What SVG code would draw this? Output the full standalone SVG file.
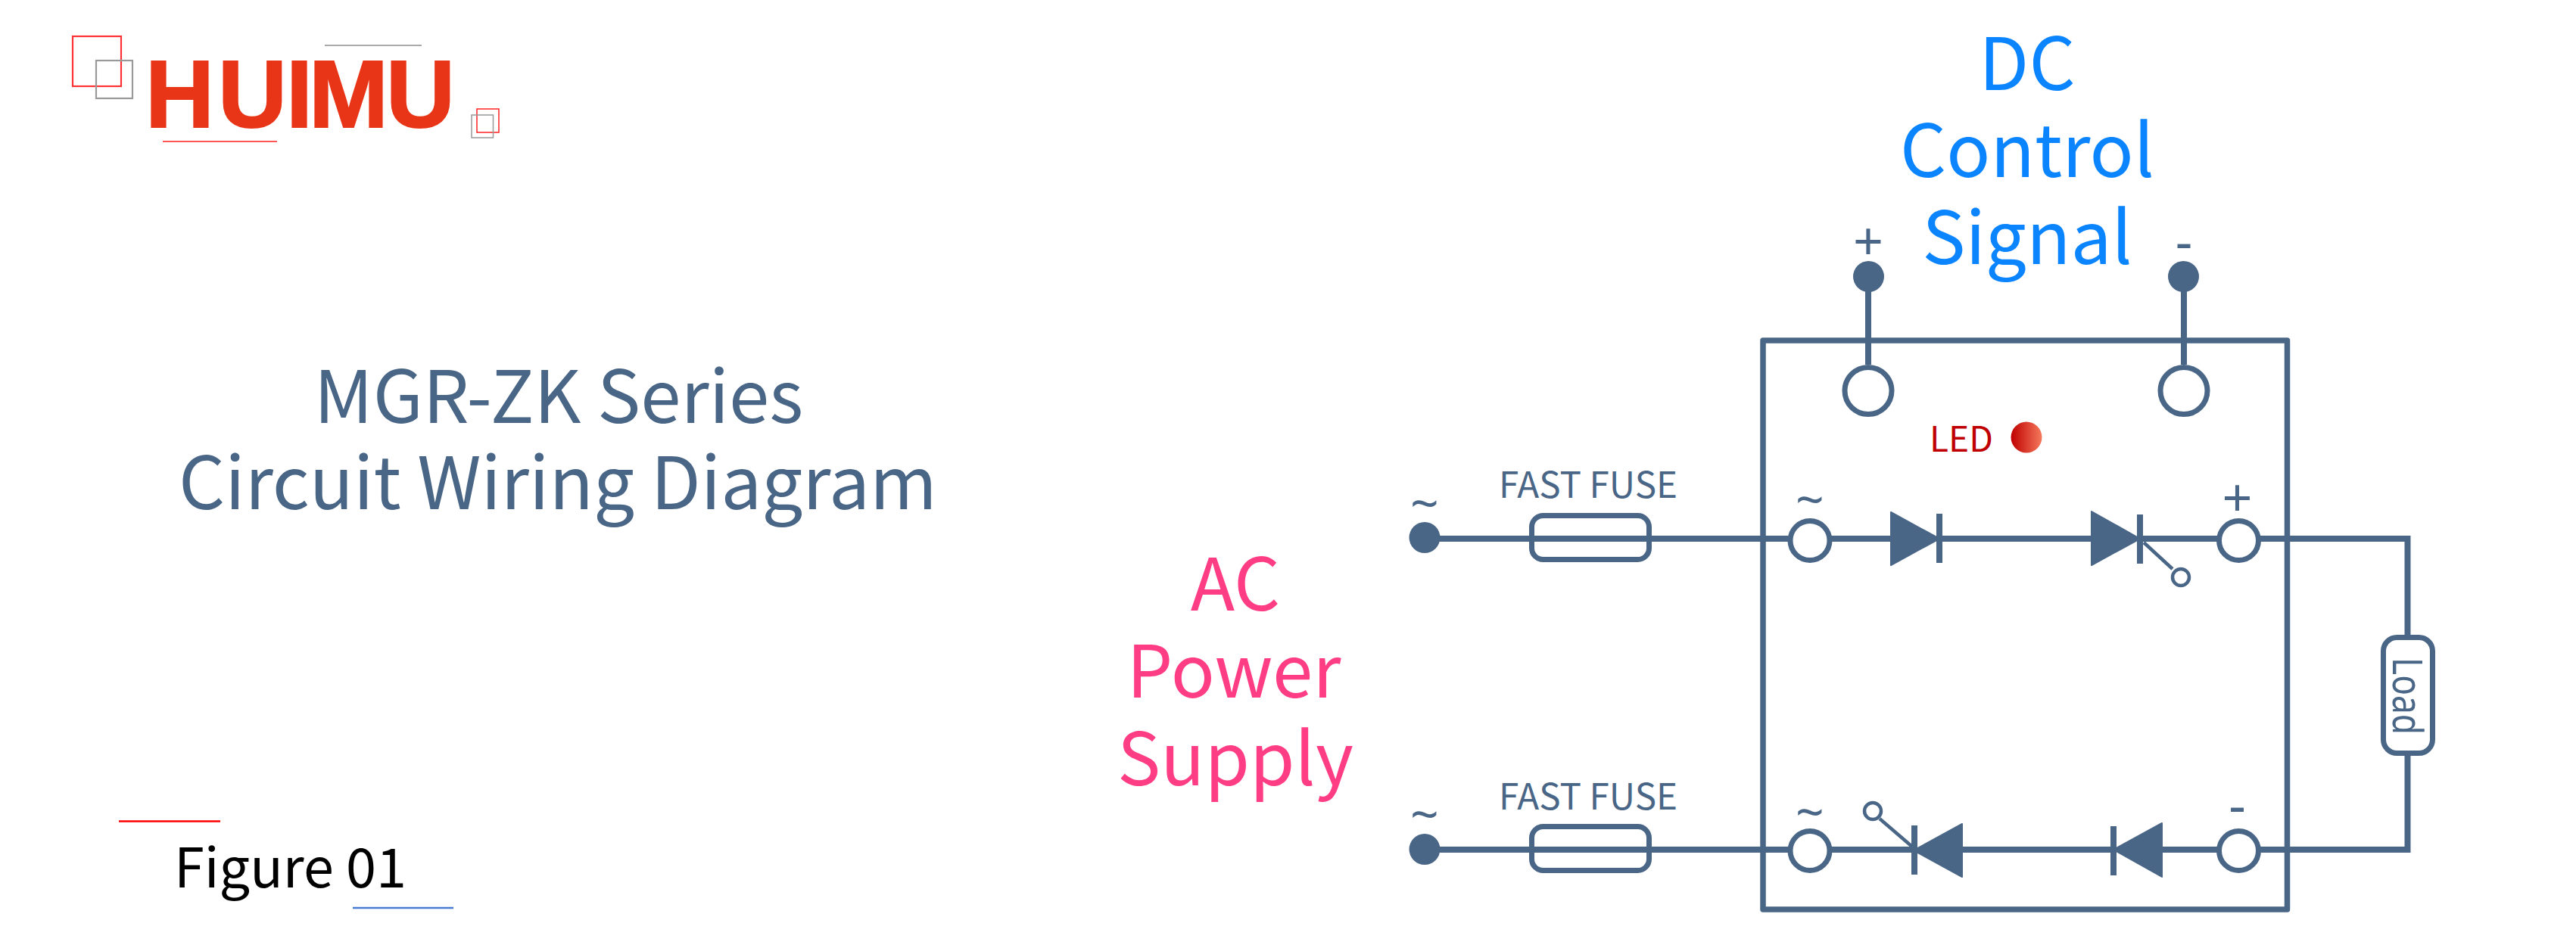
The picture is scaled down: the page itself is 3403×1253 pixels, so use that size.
<svg xmlns="http://www.w3.org/2000/svg" width="3403" height="1253" viewBox="0 0 3403 1253">
<defs>
<style>
.w{fill:none;stroke:#4a6687;stroke-width:8}
.term{fill:#fff;stroke:#4a6687;stroke-width:7}
.dot{fill:#4a6687}
.fuse{fill:none;stroke:#4a6687;stroke-width:7}
.sym{font-family:"Noto Sans","Noto Sans CJK SC",sans-serif;fill:#4a6687}
.t{font-family:"Noto Sans CJK SC","Noto Sans",sans-serif}
.lbl{font-family:"Noto Sans CJK SC","Noto Sans",sans-serif;text-anchor:middle}
</style>
<linearGradient id="led"><stop offset="0" stop-color="#c00000"/><stop offset="1" stop-color="#f4795b"/></linearGradient>
</defs>
<rect width="3403" height="1253" fill="#fff"/>
<g id="logo">
<rect x="96" y="48" width="64" height="66" fill="none" stroke="#f33" stroke-width="2.2"/>
<rect x="127" y="80" width="48" height="50" fill="none" stroke="#999" stroke-width="2.2"/>
<line x1="429" y1="60" x2="557" y2="60" stroke="#aaa" stroke-width="2"/>
<line x1="215" y1="187" x2="366" y2="187" stroke="#f55" stroke-width="2"/>
<text x="192 288 378 408 510" y="168" font-family="Liberation Sans,sans-serif" font-weight="700" font-size="126" fill="#e83518" stroke="#e83518" stroke-width="2">HUIMU</text>
<rect x="630" y="144" width="29" height="31" fill="none" stroke="#f22" stroke-width="1.5"/>
<rect x="623" y="152" width="28.500" height="30" fill="none" stroke="#999" stroke-width="1.5"/>
</g>
<g id="title">
<text class="lbl" x="738" y="559" font-size="96" fill="#4a6687">MGR-ZK Series</text>
<text class="lbl" x="737" y="673" font-size="96" fill="#4a6687">Circuit Wiring Diagram</text>
</g>
<g id="figure">
<line x1="157" y1="1085.500" x2="291" y2="1085.500" stroke="#f00" stroke-width="2.500"/>
<text class="t" x="230" y="1173" font-size="72" fill="#000">Figure 01</text>
<line x1="466" y1="1200" x2="599" y2="1200" stroke="#4a7bd4" stroke-width="2.500"/>
</g>
<g id="connectors">
<path class="w" d="M1882 712H2362M2419 712H2498M2566 712H2763M2831 712H2929M2986 712H3180.500V839M3180.500 999V1123H2986M2929 1123H2856M2793 1123H2592M2531 1123H2419M2362 1123H1882"/>
<path class="w" d="M2468 366V482M2885 366V482"/>
<path d="M2832 717L2870 752M2483 1082L2526 1119" fill="none" stroke="#4a6687" stroke-width="4.500"/>
</g>
<g id="device">
<rect x="2329" y="450" width="692.500" height="752" fill="none" stroke="#4a6687" stroke-width="7.500" stroke-linejoin="round"/>
</g>
<g id="dc-plus"><circle class="dot" cx="2468.500" cy="365.500" r="20.500"/><text class="sym" x="2468" y="344" font-size="70" text-anchor="middle">+</text></g>
<g id="dc-minus"><circle class="dot" cx="2884.500" cy="365.500" r="20.500"/><text class="sym" x="2885" y="343.500" font-size="70" text-anchor="middle">-</text></g>
<g id="dc-terminal-plus"><circle class="term" cx="2468" cy="516.500" r="31"/></g>
<g id="dc-terminal-minus"><circle class="term" cx="2885" cy="516.500" r="31"/></g>
<g id="led-indicator">
<text x="2549" y="597" font-family="Noto Sans CJK SC,Noto Sans,sans-serif" font-size="46" fill="#c00000" textLength="84" lengthAdjust="spacingAndGlyphs">LED</text>
<circle cx="2677" cy="578" r="20.500" fill="url(#led)"/>
</g>
<g id="ac-top"><circle class="dot" cx="1882" cy="710.500" r="20.500"/><text class="sym" x="1882" y="688.500" font-size="66" text-anchor="middle">~</text></g>
<g id="ac-bottom"><circle class="dot" cx="1882" cy="1122.500" r="20.500"/><text class="sym" x="1882" y="1100" font-size="66" text-anchor="middle">~</text></g>
<g id="fuse-top"><rect class="fuse" x="2023.500" y="681.500" width="155" height="58" rx="15"/><text class="lbl" x="2098" y="658" font-size="48" fill="#4a6687" textLength="236" lengthAdjust="spacingAndGlyphs">FAST FUSE</text></g>
<g id="fuse-bottom"><rect class="fuse" x="2023.500" y="1092.500" width="155" height="58" rx="15"/><text class="lbl" x="2098" y="1070" font-size="48" fill="#4a6687" textLength="236" lengthAdjust="spacingAndGlyphs">FAST FUSE</text></g>
<g id="term-ac-top"><circle class="term" cx="2391" cy="714.500" r="26"/><text class="sym" x="2391" y="684" font-size="66" text-anchor="middle">~</text></g>
<g id="term-ac-bottom"><circle class="term" cx="2391" cy="1124.500" r="26"/><text class="sym" x="2391" y="1096.500" font-size="66" text-anchor="middle">~</text></g>
<g id="term-plus"><circle class="term" cx="2957.500" cy="714.500" r="26"/><text class="sym" x="2955.500" y="683" font-size="70" text-anchor="middle">+</text></g>
<g id="term-minus"><circle class="term" cx="2957.500" cy="1124.500" r="26"/><text class="sym" x="2955.500" y="1089" font-size="70" text-anchor="middle">-</text></g>
<g id="diode-top"><path class="dot" d="M2498 677L2562 712L2498 747Z" stroke="#4a6687" stroke-width="2" stroke-linejoin="round"/><rect class="dot" x="2558" y="679" width="8" height="65"/></g>
<g id="scr-top"><path class="dot" d="M2763 676L2827 712L2763 747Z" stroke="#4a6687" stroke-width="2" stroke-linejoin="round"/><rect class="dot" x="2823" y="680" width="8" height="65"/><circle cx="2881" cy="763" r="11" fill="#fff" stroke="#4a6687" stroke-width="4.500"/></g>
<g id="scr-bottom"><path class="dot" d="M2592 1089L2528 1124L2592 1159Z" stroke="#4a6687" stroke-width="2" stroke-linejoin="round"/><rect class="dot" x="2525" y="1091" width="8" height="65"/><circle cx="2474" cy="1072" r="11" fill="#fff" stroke="#4a6687" stroke-width="4.500"/></g>
<g id="diode-bottom"><path class="dot" d="M2856 1088L2792 1123L2856 1159Z" stroke="#4a6687" stroke-width="2" stroke-linejoin="round"/><rect class="dot" x="2788" y="1092" width="8" height="65"/></g>
<g id="load"><rect x="3148.500" y="842.500" width="65" height="153" rx="18" fill="#fff" stroke="#4a6687" stroke-width="7"/><text class="sym" transform="translate(3161 869) rotate(90)" x="0" y="0" font-size="54" textLength="102" lengthAdjust="spacingAndGlyphs">Load</text></g>
<g id="label-dc" fill="#0a84ff">
<text class="lbl" font-size="96" x="2678" y="119">DC</text>
<text class="lbl" font-size="96" x="2678" y="234">Control</text>
<text class="lbl" font-size="96" x="2678" y="349">Signal</text>
</g>
<g id="label-ac" fill="#ff3d84">
<text class="lbl" font-size="96" x="1632" y="807">AC</text>
<text class="lbl" font-size="96" x="1630" y="922">Power</text>
<text class="lbl" font-size="96" x="1632" y="1038">Supply</text>
</g>
</svg>
